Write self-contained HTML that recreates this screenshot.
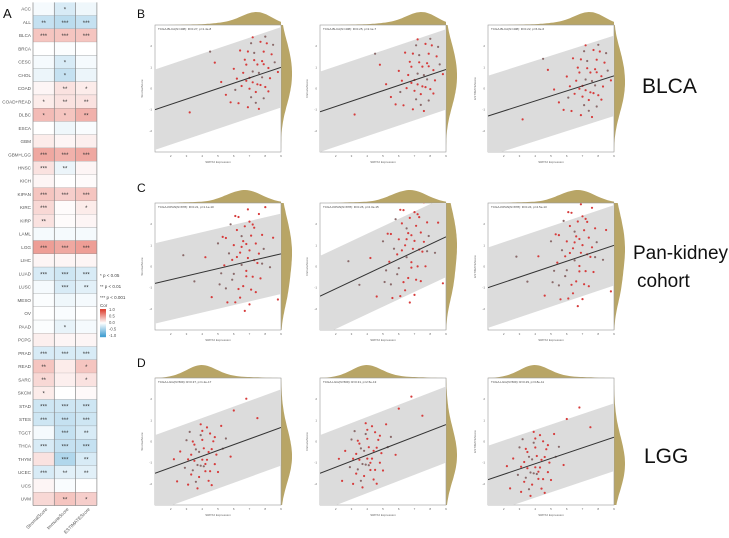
<!DOCTYPE html>
<html><head><meta charset="utf-8">
<style>
html,body{margin:0;padding:0;background:#fff;}
svg{display:block;font-family:"Liberation Sans",sans-serif;}
</style></head>
<body>
<svg id="fig" width="729" height="538" viewBox="0 0 729 538" xmlns="http://www.w3.org/2000/svg">
<g id="heat"></g>
<g id="legend">
<text x="100" y="277" font-size="4.5" fill="#444">* p &lt; 0.05</text>
<text x="100" y="288" font-size="4.5" fill="#444">** p &lt; 0.01</text>
<text x="100" y="299" font-size="4.5" fill="#444">*** p &lt; 0.001</text>
<text x="100" y="307" font-size="4.5" fill="#444">Cor</text>
</g>
<g id="panels"></g>
<text x="3" y="18" font-size="13" fill="#111">A</text>
<text x="137" y="18" font-size="12" fill="#111">B</text>
<text x="137" y="192" font-size="12" fill="#111">C</text>
<text x="137" y="367" font-size="12" fill="#111">D</text>
<text x="642" y="93" font-size="21" fill="#111">BLCA</text>
<text x="633" y="259" font-size="19" fill="#111">Pan-kidney</text>
<text x="637" y="287" font-size="19" fill="#111">cohort</text>
<text x="644" y="463" font-size="21" fill="#111">LGG</text>
</svg>
<script>
// ---------- Heatmap data ----------
const cancers=["ACC","ALL","BLCA","BRCA","CESC","CHOL","COAD","COAD+READ","DLBC","ESCA","GBM","GBM+LGG","HNSC","KICH","KIPAN","KIRC","KIRP","LAML","LGG","LIHC","LUAD","LUSC","MESO","OV","PAAD","PCPG","PRAD","READ","SARC","SKCM","STAD","STES","TGCT","THCA","THYM","UCEC","UCS","UVM"];
const scores=["StromalScore","ImmuneScore","ESTIMATEScore"];
const stromalCor=[-0.05,-0.3,0.3,0,-0.05,-0.1,0.05,0.1,0.35,0,0.1,0.45,0.15,0.05,0.3,0.2,0.15,-0.05,0.5,0.05,-0.2,-0.05,-0.02,0,-0.02,0.08,-0.2,0.3,0.2,0.1,-0.25,-0.25,-0.05,-0.2,0.15,-0.2,0.05,0.2];
const immuneCor=[-0.2,-0.35,0.3,-0.02,-0.2,-0.3,0.15,0.15,0.3,-0.08,0.05,0.4,-0.1,0,0.25,0.02,0.02,-0.05,0.45,0.05,-0.25,-0.2,-0.08,-0.03,-0.12,0.05,-0.2,0.1,0.08,0,-0.25,-0.3,-0.3,-0.3,-0.4,-0.15,-0.03,0.3];
const estimateCor=[-0.08,-0.3,0.3,0,-0.05,-0.1,0.1,0.15,0.4,-0.03,0.08,0.45,0.05,0.02,0.3,0.1,0.05,-0.05,0.5,0.05,-0.2,-0.15,-0.05,0,-0.05,0.05,-0.2,0.3,0.15,0.03,-0.25,-0.25,-0.2,-0.3,-0.2,-0.15,0,0.25];
const stromalSig=["","**","***","","","","","*","*","","","***","***","","***","***","**","","***","","***","","","","","","***","**","**","*","***","***","","***","","***","",""];
const immuneSig=["*","***","***","","*","*","**","**","*","","","***","**","","***","","","","***","","***","***","","","*","","***","","","","***","***","***","***","***","**","","**"];
const estimateSig=["","***","***","","","","*","**","**","","","***","","","***","*","","","***","","***","**","","","","","***","*","*","","***","***","**","***","**","**","","*"];
const legendTicks=["1.0","0.5","0.0","-0.5","-1.0"];

const NS="http://www.w3.org/2000/svg";
function mk(tag,attrs,parent){const e=document.createElementNS(NS,tag);for(const k in attrs)e.setAttribute(k,attrs[k]);if(parent)parent.appendChild(e);return e;}
function corColor(v){
  v=Math.max(-1,Math.min(1,v));
  let c=v>=0?[222,70,55]:[70,160,210];const t=Math.min(1,Math.abs(v)*1.05);
  const r=Math.round(255+(c[0]-255)*t),g=Math.round(255+(c[1]-255)*t),b=Math.round(255+(c[2]-255)*t);
  return `rgb(${r},${g},${b})`;
}
const HX0=33,HCW=21.3,HY0=2.4,HRH=13.24;
const hx=i=>HX0+i*HCW, hy=j=>HY0+j*HRH;
const heat=document.getElementById('heat');
const cols=[stromalCor,immuneCor,estimateCor], sigs=[stromalSig,immuneSig,estimateSig];
cancers.forEach((c,j)=>{
  const lab=mk('text',{x:31,y:hy(j)+HRH/2+1.6,'font-size':4.6,'text-anchor':'end',fill:'#555'},heat);
  lab.textContent=c;
  
  
  for(let i=0;i<3;i++){
    const r=mk('rect',{x:hx(i),y:hy(j),width:HCW,height:HRH,fill:corColor(cols[i][j])},heat);
    
    
    if(sigs[i][j]){const s=mk('text',{x:hx(i)+HCW/2,y:hy(j)+HRH/2+2.5,'font-size':6,'text-anchor':'middle',fill:'#333'},heat);s.textContent=sigs[i][j];
      
      }
  }
  mk('line',{x1:HX0,x2:HX0+3*HCW,y1:hy(j+1),y2:hy(j+1),stroke:'#888','stroke-width':0.6},heat);
});
for(let i=0;i<=3;i++)mk('line',{x1:hx(i),x2:hx(i),y1:HY0,y2:hy(cancers.length),stroke:'#888','stroke-width':0.7},heat);
scores.forEach((s,i)=>{const t=mk('text',{x:hx(i)+HCW/2+4,y:hy(cancers.length)+4,'font-size':4.6,'text-anchor':'end',fill:'#555',transform:`rotate(-45 ${hx(i)+HCW/2+4} ${hy(cancers.length)+4})`},heat);t.textContent=s;
  
  });
// colorbar
const leg=document.getElementById('legend');
for(let k=0;k<28;k++){const v=1-2*k/27;mk('rect',{x:100,y:309+k,width:6,height:1.2,fill:corColor(v)},leg);}
legendTicks.forEach((t,k)=>{const e=mk('text',{x:109,y:311+k*6.5,'font-size':4.2,fill:'#555'},leg);e.textContent=t;
  
  });

// ---------- Scatter data (x = expression, y = residual from fit) ----------
const blcaPts=[[7.2,0.3],[7.5,-0.5],[6.8,0.8],[7.9,1.2],[7.1,-1.1],[8.2,0.2],[6.5,-0.3],[7.7,1.8],[7.4,-1.5],[8.0,-0.8],[6.9,1.5],[7.3,0.9],[7.8,-0.2],[6.6,0.4],[8.4,0.9],[7.0,-0.6],[7.6,0.1],[8.1,1.6],[6.3,-1.2],[7.2,2.2],[7.9,-1.4],[6.7,1.1],[8.3,-0.4],[7.5,0.6],[7.1,1.9],[5.5,-0.5],[6.0,0.8],[4.8,1.5],[8.6,0.4],[7.4,-0.9],[6.2,0.2],[7.8,0.7],[8.0,2.0],[6.9,-1.6],[7.6,-1.9],[5.8,-1.0],[7.3,1.3],[8.2,-1.1],[6.4,1.7],[7.0,0.0],[4.5,2.2],[3.2,-0.8],[7.7,-0.6],[6.8,-0.1],[8.5,1.4],[7.2,-0.3],[5.2,0.3],[7.9,0.5],[6.1,-0.4],[8.8,-0.2]];
const kidneyPts=[[6.5,1.5],[7.0,2.2],[7.3,1.8],[6.8,-0.5],[5.5,-1.2],[6.2,0.4],[7.6,2.5],[7.1,-1.6],[5.9,-0.8],[6.7,2.0],[7.4,0.9],[6.0,1.1],[5.2,-0.3],[6.4,-1.9],[7.8,1.3],[6.9,0.2],[5.7,0.7],[7.2,-0.9],[6.6,-1.3],[8.0,2.8],[5.0,1.4],[6.3,2.6],[7.5,-0.2],[6.1,-2.1],[7.9,0.5],[5.4,0.1],[6.8,1.0],[7.0,-2.4],[6.5,-0.1],[4.6,-1.5],[7.7,-1.1],[6.2,1.9],[5.8,2.3],[7.3,0.0],[6.9,2.9],[4.2,0.8],[8.3,-0.6],[5.6,-2.0],[6.4,0.6],[7.1,1.4],[3.5,-0.4],[6.7,-2.7],[7.4,-1.8],[5.3,1.7],[6.0,-0.5],[8.5,1.0],[6.6,1.2],[7.6,0.3],[5.1,-0.9],[6.3,-1.4],[7.2,2.0],[6.8,-0.8],[2.8,1.2],[5.9,0.3],[7.0,0.6],[6.1,2.7],[7.8,-0.3],[6.5,0.9],[5.5,1.6],[8.8,-2.5]];
const lggPts=[[3.8,0.3],[4.2,-0.5],[3.5,0.8],[4.5,-1.0],[3.9,1.2],[4.0,-0.2],[3.3,-0.8],[4.7,0.6],[3.6,-1.3],[4.3,1.5],[3.1,0.1],[4.1,0.4],[3.7,-0.4],[4.8,-0.7],[3.4,1.0],[4.4,-1.5],[2.9,-0.3],[4.0,0.9],[3.8,-1.1],[5.2,1.3],[3.2,1.6],[4.6,0.2],[3.5,-0.1],[4.2,-0.9],[5.5,0.5],[2.6,0.7],[3.9,1.8],[4.9,-0.2],[3.6,0.5],[4.3,-0.3],[6.0,1.9],[2.4,-0.9],[3.0,1.2],[4.5,1.1],[3.7,-1.7],[5.8,-0.6],[4.1,-0.6],[3.3,0.3],[6.8,2.3],[4.8,0.8],[3.9,-0.5],[2.2,0.4],[4.4,0.1],[5.0,-1.2],[3.4,-0.6],[7.5,1.0],[4.0,1.4],[3.1,-1.3],[5.3,0.0],[4.6,-1.8]];
// fit line value at x=1 and x=9, per panel (rows B,C,D x 3 scores)
const fitLeft=[-1.0,-1.1,-1.3,-0.8,-1.4,-1.0,-1.5,-1.5,-1.8];
const fitRight=[1.0,0.9,0.6,0.6,1.4,1.0,0.66,0.8,0.2];
const bandHalf=[1.9,1.9,1.9,1.9,1.9,1.9,1.8,1.8,1.6];
const panelTitles=["TCGA-BLCA(N=408): R=0.27, p=1.4e-8","TCGA-BLCA(N=408): R=0.25, p=2.1e-7","TCGA-BLCA(N=408): R=0.22, p=6.0e-6","TCGA-KIPAN(N=878): R=0.21, p=1.1e-10","TCGA-KIPAN(N=878): R=0.26, p=2.3e-15","TCGA-KIPAN(N=878): R=0.24, p=4.5e-13","TCGA-LGG(N=509): R=0.37, p=1.2e-17","TCGA-LGG(N=509): R=0.31, p=2.5e-13","TCGA-LGG(N=509): R=0.29, p=3.8e-11"];
const yTicks=["2","1","0","-1","-2"];
const xTicks=["2","3","4","5","6","7","8","9"];

const plotX=[155,320,488], plotY=[25,203,378], PW=126, PH=127;
const rowPts=[blcaPts,kidneyPts,lggPts];
const panels=document.getElementById('panels');
const cid=(()=>{let n=0;return()=>'c'+(n++);})();
for(let r=0;r<3;r++)for(let c=0;c<3;c++){
  const k=r*3+c, X0=plotX[c], Y0=plotY[r];
  const sx=x=>X0+(x-1)/8*PW, sy=y=>Y0+(3-y)/6*PH;
  const fit=x=>fitLeft[k]+(fitRight[k]-fitLeft[k])*(x-1)/8;
  const g=mk('g',{},panels);
  
  
  const pts=rowPts[r].map(p=>[p[0],fit(p[0])+p[1]*0.85]);
  const h=0.6;
  let mx=0; const dens=[];
  for(let i=0;i<=60;i++){const x=1+8*i/60;let s=0;pts.forEach(p=>s+=Math.exp(-((x-p[0])**2)/(2*h*h)));dens.push(s);mx=Math.max(mx,s);}
  let d=`M${X0},${Y0}`;dens.forEach((s,i)=>{d+=` L${(X0+PW*i/60).toFixed(1)},${(Y0-s/mx*13).toFixed(1)}`;});d+=` L${X0+PW},${Y0} Z`;
  const td=mk('path',{d:d,fill:'#b8a566'},g);
  
  
  const dy=[];mx=0;const hy2=0.7;
  for(let i=0;i<=60;i++){const y=3-6*i/60;let s=0;pts.forEach(p=>s+=Math.exp(-((y-p[1])**2)/(2*hy2*hy2)));dy.push(s);mx=Math.max(mx,s);}
  d=`M${X0+PW},${Y0}`;dy.forEach((s,i)=>{d+=` L${(X0+PW+s/mx*11).toFixed(1)},${(Y0+PH*i/60).toFixed(1)}`;});d+=` L${X0+PW},${Y0+PH} Z`;
  const rd=mk('path',{d:d,fill:'#b8a566'},g);
  
  
  mk('rect',{x:X0,y:Y0,width:PW,height:PH,fill:'#fff',stroke:'#999','stroke-width':0.6},g);
  const id=cid();const cp=mk('clipPath',{id:id},g);mk('rect',{x:X0,y:Y0,width:PW,height:PH},cp);
  const band=mk('polygon',{points:`${sx(1)},${sy(fit(1)+bandHalf[k])} ${sx(9)},${sy(fit(9)+bandHalf[k])} ${sx(9)},${sy(fit(9)-bandHalf[k])} ${sx(1)},${sy(fit(1)-bandHalf[k])}`,fill:'#dcdcdc','clip-path':`url(#${id})`},g);
  
  
  pts.forEach((p,i)=>{const e=mk('circle',{cx:sx(p[0]).toFixed(1),cy:sy(p[1]).toFixed(1),r:1.1,fill:i%4==0?'#8a6a6a':'#d63c3c','clip-path':`url(#${id})`},g);
    
    });
  const ln=mk('line',{x1:sx(1),y1:sy(fit(1)),x2:sx(9),y2:sy(fit(9)),stroke:'#333','stroke-width':1,'clip-path':`url(#${id})`},g);
  
  
  const tt=mk('text',{x:X0+3,y:Y0+5,'font-size':3,fill:'#444'},g);tt.textContent=panelTitles[k];
  
  
  yTicks.forEach((t,i)=>{const e=mk('text',{x:X0-3,y:sy(2-i)+1,'font-size':3,'text-anchor':'end',fill:'#666'},g);e.textContent=t;
    
    });
  xTicks.forEach((t,i)=>{const e=mk('text',{x:sx(2+i),y:Y0+PH+5,'font-size':3,'text-anchor':'middle',fill:'#666'},g);e.textContent=t;
    
    });
  const xl=mk('text',{x:X0+PW/2,y:Y0+PH+11,'font-size':3,'text-anchor':'middle',fill:'#666'},g);xl.textContent='SRPX2 Expression';
  
  
  const yl=mk('text',{x:X0-12,y:Y0+PH/2,'font-size':3,'text-anchor':'middle',fill:'#666',transform:`rotate(-90 ${X0-12} ${Y0+PH/2})`},g);yl.textContent=scores[c];
  
  
}
</script>
</body></html>
